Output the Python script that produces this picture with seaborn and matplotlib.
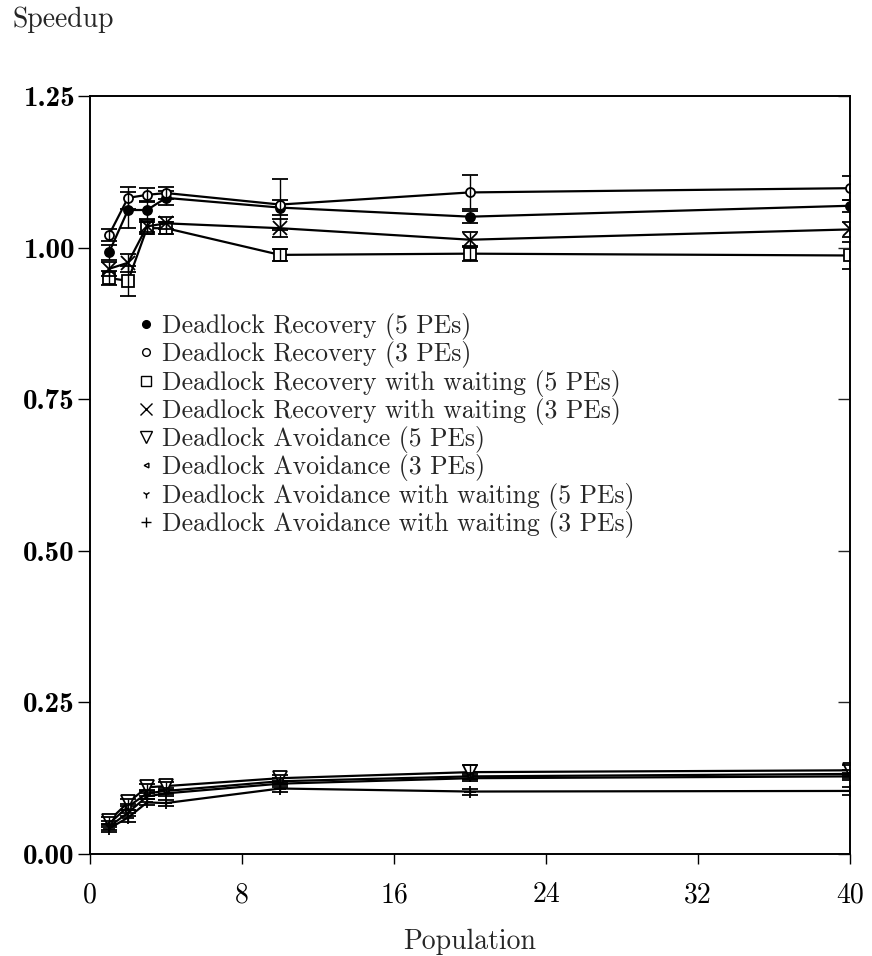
import matplotlib
matplotlib.use("Agg")
import matplotlib.pyplot as plt
from matplotlib.lines import Line2D
import seaborn as sns
import pandas as pd

# ---- data ----
population = [1, 2, 3, 4, 10, 20, 40]

rec5 = [0.992, 1.062, 1.062, 1.082, 1.066, 1.051, 1.069]
rec5_err = [0.012, 0.030, 0.015, 0.012, 0.012, 0.010, 0.010]
rec3 = [1.021, 1.082, 1.087, 1.090, 1.071, 1.091, 1.098]
rec3_err = [0.010, 0.018, 0.012, 0.010, 0.042, 0.028, 0.020]
recw5 = [0.950, 0.945, 1.032, 1.032, 0.988, 0.990, 0.987]
recw5_err = [0.012, 0.025, 0.010, 0.010, 0.010, 0.012, 0.022]
recw3 = [0.965, 0.975, 1.035, 1.040, 1.032, 1.013, 1.030]
recw3_err = [0.012, 0.015, 0.010, 0.010, 0.015, 0.012, 0.012]

av5 = [0.055, 0.085, 0.110, 0.112, 0.125, 0.135, 0.138]
av5_err = [0.006, 0.006, 0.006, 0.006, 0.006, 0.012, 0.008]
av3 = [0.050, 0.078, 0.100, 0.104, 0.120, 0.128, 0.132]
av3_err = [0.005, 0.005, 0.005, 0.005, 0.005, 0.005, 0.006]
avw5 = [0.045, 0.068, 0.095, 0.100, 0.116, 0.125, 0.128]
avw5_err = [0.005, 0.005, 0.005, 0.005, 0.005, 0.005, 0.006]
avw3 = [0.042, 0.060, 0.085, 0.084, 0.108, 0.103, 0.104]
avw3_err = [0.005, 0.008, 0.005, 0.005, 0.005, 0.005, 0.007]

labels = [
    "Deadlock Recovery (5 PEs)",
    "Deadlock Recovery (3 PEs)",
    "Deadlock Recovery with waiting (5 PEs)",
    "Deadlock Recovery with waiting (3 PEs)",
    "Deadlock Avoidance (5 PEs)",
    "Deadlock Avoidance (3 PEs)",
    "Deadlock Avoidance with waiting (5 PEs)",
    "Deadlock Avoidance with waiting (3 PEs)",
]
series = [rec5, rec3, recw5, recw3, av5, av3, avw5, avw3]
errors = [rec5_err, rec3_err, recw5_err, recw3_err, av5_err, av3_err, avw5_err, avw3_err]

xticks = [0, 8, 16, 24, 32, 40]
yticks = [0.00, 0.25, 0.50, 0.75, 1.00, 1.25]
ytick_labels = ["0.00", "0.25", "0.50", "0.75", "1.00", "1.25"]

# ---- styles ----
styles = [
    dict(marker="o", ms=6.5, mfc="black", mec="black"),
    dict(marker="o", ms=6.5, mfc="white", mec="black"),
    dict(marker="s", ms=8.5, mfc="white", mec="black"),
    dict(marker="x", ms=10, mfc="black", mec="black"),
    dict(marker="v", ms=10, mfc="white", mec="black"),
    dict(marker="<", ms=4, mfc="white", mec="black"),
    dict(marker="1", ms=6, mfc="black", mec="black"),
    dict(marker="+", ms=8, mfc="black", mec="black"),
]

sns.set_theme(style="ticks")
plt.rcParams["font.family"] = ["cmr10", "DejaVu Serif"]
plt.rcParams["axes.formatter.use_mathtext"] = True
plt.rcParams["mathtext.fontset"] = "cm"

fig = plt.figure(figsize=(8.72, 9.56), dpi=100)
ax = fig.add_axes([90 / 872, 102 / 956, 760 / 872, 758 / 956])

for lab, ys, es, st in zip(labels, series, errors, styles):
    df = pd.DataFrame({"Population": population, "Speedup": ys})
    sns.lineplot(data=df, x="Population", y="Speedup", ax=ax, color="black",
                 linewidth=1.6, marker=st["marker"], markersize=st["ms"],
                 markerfacecolor=st["mfc"], markeredgecolor=st["mec"],
                 markeredgewidth=1.3, legend=False)
    ax.errorbar(df["Population"], df["Speedup"], yerr=es, fmt="none",
                ecolor="black", elinewidth=1.0, capsize=5.5, capthick=1.3)

ax.set_xlim(0, 40)
ax.set_ylim(0, 1.25)
ax.set_xticks(xticks)
ax.set_xticklabels([str(t) for t in xticks], fontsize=20)
ax.set_yticks(yticks)
ax.set_yticklabels(ytick_labels, fontsize=21, fontfamily="cmb10")
ax.tick_params(axis="x", direction="out", length=7, width=1.0, pad=13, colors="black")
ax.tick_params(axis="y", direction="out", length=9, width=1.0, pad=2, colors="black")

ax2 = ax.twinx()
ax2.set_ylim(0, 1.25)
ax2.set_yticks(yticks)
ax2.tick_params(axis="y", direction="in", length=9, width=1.0, labelright=False)
ax2.grid(False)

for a in (ax, ax2):
    for sp in a.spines.values():
        sp.set_visible(True)
        sp.set_color("black")
        sp.set_linewidth(1.2)

ax.set_xlabel("Population", fontsize=20, labelpad=15)
ax.set_ylabel("Speedup", fontsize=20, rotation=0, ha="left", va="center")
ax.yaxis.set_label_coords(-0.1026, 1.1003)

handles = [Line2D([], [], linestyle="None", color="black", marker=st["marker"],
                  markersize=st["ms"] * 0.85, markerfacecolor=st["mfc"],
                  markeredgecolor=st["mec"], markeredgewidth=1.0)
           for st in styles]
ax.legend(handles, labels, loc="upper left", bbox_to_anchor=(0.0605, 0.7137),
          frameon=False, fontsize=18.5, handlelength=0.8, handletextpad=0.2,
          labelspacing=0.05, borderpad=0, borderaxespad=0)

fig.savefig("out.png", dpi=100)
